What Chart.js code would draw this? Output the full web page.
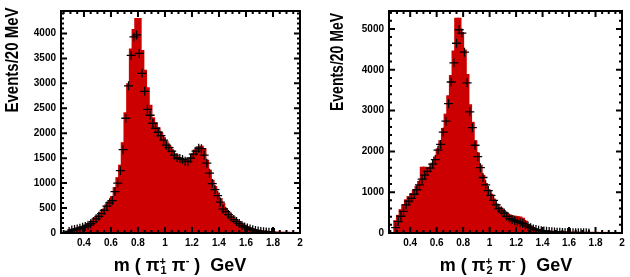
<!DOCTYPE html>
<html>
<head>
<meta charset="utf-8">
<script src="https://cdn.jsdelivr.net/npm/chart.js@4.4.1/dist/chart.umd.min.js"></script>
<style>
body { margin: 0; background: #fff; width: 630px; height: 277px; overflow: hidden; position: relative; }
canvas { position: absolute; top: 0; }
#izq { left: 0; }
#der { left: 315px; }
</style>
</head>
<body>
<canvas id="izq" width="315" height="277"></canvas>
<canvas id="der" width="315" height="277"></canvas>
<script>
// centros de bin (20 MeV, de 0.28 a 2.00 GeV)
var centros = [
    0.29, 0.31, 0.33, 0.35, 0.37, 0.39, 0.41, 0.43, 0.45, 0.47,
    0.49, 0.51, 0.53, 0.55, 0.57, 0.59, 0.61, 0.63, 0.65, 0.67,
    0.69, 0.71, 0.73, 0.75, 0.77, 0.79, 0.81, 0.83, 0.85, 0.87,
    0.89, 0.91, 0.93, 0.95, 0.97, 0.99, 1.01, 1.03, 1.05, 1.07,
    1.09, 1.11, 1.13, 1.15, 1.17, 1.19, 1.21, 1.23, 1.25, 1.27,
    1.29, 1.31, 1.33, 1.35, 1.37, 1.39, 1.41, 1.43, 1.45, 1.47,
    1.49, 1.51, 1.53, 1.55, 1.57, 1.59, 1.61, 1.63, 1.65, 1.67,
    1.69, 1.71, 1.73, 1.75, 1.77, 1.79, 1.81, 1.83, 1.85, 1.87,
    1.89, 1.91, 1.93, 1.95, 1.97, 1.99
];
// m(pi1+ pi-) : histograma (rojo) y datos (cruces)
var histo1 = [
    30, 55, 75, 90, 105, 120, 145, 170, 200, 250,
    300, 350, 410, 470, 560, 640, 720, 900, 1100, 1350,
    1800, 2400, 2980, 3680, 4070, 4290, 4290, 3650, 3250, 2900,
    2550, 2300, 2200, 2100, 2000, 1900, 1820, 1740, 1660, 1580,
    1520, 1480, 1460, 1450, 1460, 1500, 1580, 1660, 1720, 1730,
    1680, 1450, 1250, 1050, 920, 790, 680, 580, 480, 400,
    330, 280, 240, 200, 165, 135, 110, 90, 70, 55,
    45, 35, 28, 22, 18, 14, 10, 8, 6, 5,
    4, 3, 2, 2, 1, 1
];
var datos1 = [
    30, 60, 70, 80, 95, 115, 130, 155, 185, 230,
    285, 335, 390, 455, 540, 605, 650, 830, 1000, 1250,
    1670, 2300, 2950, 3560, 3930, 3970, 3600, 3200, 2840, 2480,
    2360, 2200, 2100, 2020, 1950, 1860, 1760, 1710, 1640, 1560,
    1510, 1495, 1475, 1440, 1430, 1500, 1580, 1640, 1700, 1690,
    1560, 1400, 1200, 990, 870, 750, 620, 480, 430, 370,
    320, 270, 230, 190, 150, 120, 100, 80, 65, 50,
    40, 30, 25, 20, 15, 12, 8, null, null, null,
    null, null, null, null, null, null
];
// m(pi2+ pi-)
var histo2 = [
    290, 420, 560, 680, 800, 880, 950, 1030, 1130, 1250,
    1600, 1600, 1580, 1600, 1700, 1850, 2050, 2250, 2550, 2900,
    3350, 3850, 4450, 5250, 5250, 4900, 4470, 3870, 3130, 2700,
    2250, 1950, 1650, 1400, 1200, 1050, 940, 820, 700, 620,
    560, 510, 460, 430, 410, 400, 390, 380, 350, 280,
    200, 150, 110, 90, 75, 60, 50, 42, 36, 30,
    26, 22, 19, 16, 14, 12, 10, 9, 8, 7,
    6, 5, 5, 4, 4, 3, 3, 2, 2, 2,
    2, 1, 1, 1, 1, 1
];
var datos2 = [
    130, 280, 410, 530, 690, 780, 850, 950, 1060, 1180,
    1320, 1420, 1510, 1590, 1690, 1800, 2030, 2170, 2470, 2740,
    3170, 3700, 4170, 4650, 4980, 4900, 4430, 3680, 2970, 2580,
    2150, 1870, 1600, 1360, 1180, 1040, 920, 800, 690, 600,
    540, 490, 410, 360, 330, 300, 280, 255, 235, 200,
    170, 130, 100, 85, 70, 58, 48, 40, 34, 28,
    24, 20, 17, 14, 12, 10, 9, 8, 7, 6,
    5, 4, 4, 3, null, null, null, null, null, null,
    null, null, null, null, null, null
];
var ticksX = [0.4, 0.6, 0.8, 1.0, 1.2, 1.4, 1.6, 1.8, 2.0];
var ticksY1 = [0, 500, 1000, 1500, 2000, 2500, 3000, 3500, 4000];
var ticksY2 = [0, 1000, 2000, 3000, 4000, 5000];

var fuenteTicks = { family: "'Liberation Sans', Arial, sans-serif", size: 10, weight: 'bold' };

function pares(xs, ys) {
    var out = [];
    for (var i = 0; i < xs.length; i++) {
        out.push({ x: xs[i], y: ys[i] });
    }
    return out;
}

// marco con ticks hacia dentro, estilo ROOT, y titulos de ejes
var marco = {
    id: 'marco',
    afterDraw: function (chart, args, o) {
        var ctx = chart.ctx;
        var a = chart.chartArea;
        var sx = chart.scales.x, sy = chart.scales.y;
        ctx.save();
        ctx.strokeStyle = '#000';
        ctx.lineWidth = 2;
        ctx.strokeRect(a.left, a.top, a.right - a.left, a.bottom - a.top);
        ctx.beginPath();
        var k, v, p, l;
        for (k = Math.ceil(sx.min / 0.05 - 1e-6); k * 0.05 <= sx.max + 1e-6; k++) {
            v = k * 0.05;
            p = sx.getPixelForValue(v);
            l = (k % 4 === 0) ? 6 : 3;
            ctx.moveTo(p, a.bottom); ctx.lineTo(p, a.bottom - l);
            ctx.moveTo(p, a.top); ctx.lineTo(p, a.top + l);
        }
        for (k = 0; k * o.menor <= sy.max; k++) {
            v = k * o.menor;
            p = sy.getPixelForValue(v);
            l = (v % o.mayor === 0) ? 6 : 3;
            ctx.moveTo(a.left, p); ctx.lineTo(a.left + l, p);
            ctx.moveTo(a.right, p); ctx.lineTo(a.right - l, p);
        }
        ctx.stroke();

        // titulo eje Y
        ctx.fillStyle = '#000';
        ctx.font = "bold 19px 'Liberation Sans', Arial, sans-serif";
        var txt = 'Events/20 MeV';
        var w = ctx.measureText(txt).width;
        ctx.translate(o.yt[0], o.yt[1]);
        ctx.rotate(-Math.PI / 2);
        ctx.scale(o.yt[2] / w, 1);
        ctx.textAlign = 'center';
        ctx.textBaseline = 'middle';
        ctx.fillText(txt, 0, 0);
        ctx.setTransform(1, 0, 0, 1, 0, 0);

        // titulo eje X: m ( pi_n^+ pi^- )  GeV
        var big = "bold 18px 'Liberation Sans', Arial, sans-serif";
        var small = "bold 11px 'Liberation Sans', Arial, sans-serif";
        ctx.textAlign = 'left';
        ctx.textBaseline = 'alphabetic';
        ctx.font = big;
        var w1 = ctx.measureText('m ( \u03c0').width;
        var w3 = ctx.measureText(' \u03c0').width;
        var w5 = ctx.measureText(' )  GeV').width;
        ctx.font = small;
        var w2 = Math.max(ctx.measureText('+').width, ctx.measureText(o.sub).width) + 1;
        var w4 = ctx.measureText('-').width;
        var total = w1 + w2 + w3 + w4 + w5;
        var x0 = o.xt[0] - total / 2, yb = o.xt[1];
        ctx.font = big;
        ctx.fillText('m ( \u03c0', x0, yb);
        ctx.font = small;
        ctx.fillText('+', x0 + w1, yb - 6);
        ctx.fillText(o.sub, x0 + w1 + 1, yb + 3);
        ctx.font = big;
        ctx.fillText(' \u03c0', x0 + w1 + w2, yb);
        ctx.font = small;
        ctx.fillText('-', x0 + w1 + w2 + w3, yb - 7);
        ctx.font = big;
        ctx.fillText(' )  GeV', x0 + w1 + w2 + w3 + w4, yb);
        ctx.restore();
    }
};

function crearGrafico(id, histo, datos, cfg) {
    var ctx = document.getElementById(id).getContext('2d');
    return new Chart(ctx, {
        type: 'bar',
        data: {
            datasets: [
                {
                    type: 'line',
                    data: pares(centros, datos),
                    showLine: false,
                    pointStyle: 'cross',
                    pointRadius: 4.5,
                    pointBorderWidth: 1.3,
                    pointBorderColor: '#000',
                    borderColor: '#000',
                    order: 0
                },
                {
                    type: 'bar',
                    data: pares(centros, histo),
                    backgroundColor: '#cc0000',
                    borderWidth: 0,
                    inflateAmount: 1,
                    barPercentage: 1,
                    categoryPercentage: 1,
                    order: 1
                }
            ]
        },
        options: {
            responsive: false,
            animation: false,
            events: [],
            layout: { padding: { left: 0, right: cfg.padDer, top: 2, bottom: 0 } },
            plugins: {
                legend: { display: false },
                tooltip: { enabled: false },
                marco: cfg.marco
            },
            scales: {
                x: {
                    type: 'linear',
                    min: cfg.xmin,
                    max: 2.0,
                    offset: false,
                    grid: { display: false, drawTicks: false, offset: false },
                    border: { display: false },
                    afterBuildTicks: function (s) {
                        s.ticks = ticksX.map(function (v) { return { value: v }; });
                    },
                    afterFit: function (s) { s.height = 44; },
                    ticks: {
                        color: '#000',
                        font: fuenteTicks,
                        padding: 4,
                        maxRotation: 0,
                        autoSkip: false,
                        callback: function (v) { return String(Math.round(v * 10) / 10); }
                    }
                },
                y: {
                    min: 0,
                    max: cfg.ymax,
                    grid: { display: false, drawTicks: false },
                    border: { display: false },
                    afterBuildTicks: function (s) {
                        s.ticks = cfg.ticksY.map(function (v) { return { value: v }; });
                    },
                    afterFit: function (s) { s.width = cfg.ancho; },
                    ticks: {
                        color: '#000',
                        font: fuenteTicks,
                        padding: 5,
                        callback: function (v) { return String(v); }
                    }
                }
            }
        },
        plugins: [marco]
    });
}

crearGrafico('izq', histo1, datos1, {
    xmin: 0.23, ymax: 4450, ticksY: ticksY1, ancho: 61, padDer: 15,
    marco: { menor: 100, mayor: 500, sub: '1', yt: [13, 60, 105], xt: [180, 271] }
});
crearGrafico('der', histo2, datos2, {
    xmin: 0.24, ymax: 5440, ticksY: ticksY2, ancho: 74, padDer: 8,
    marco: { menor: 200, mayor: 1000, sub: '2', yt: [23, 62, 98], xt: [191, 271] }
});
</script>
</body>
</html>
